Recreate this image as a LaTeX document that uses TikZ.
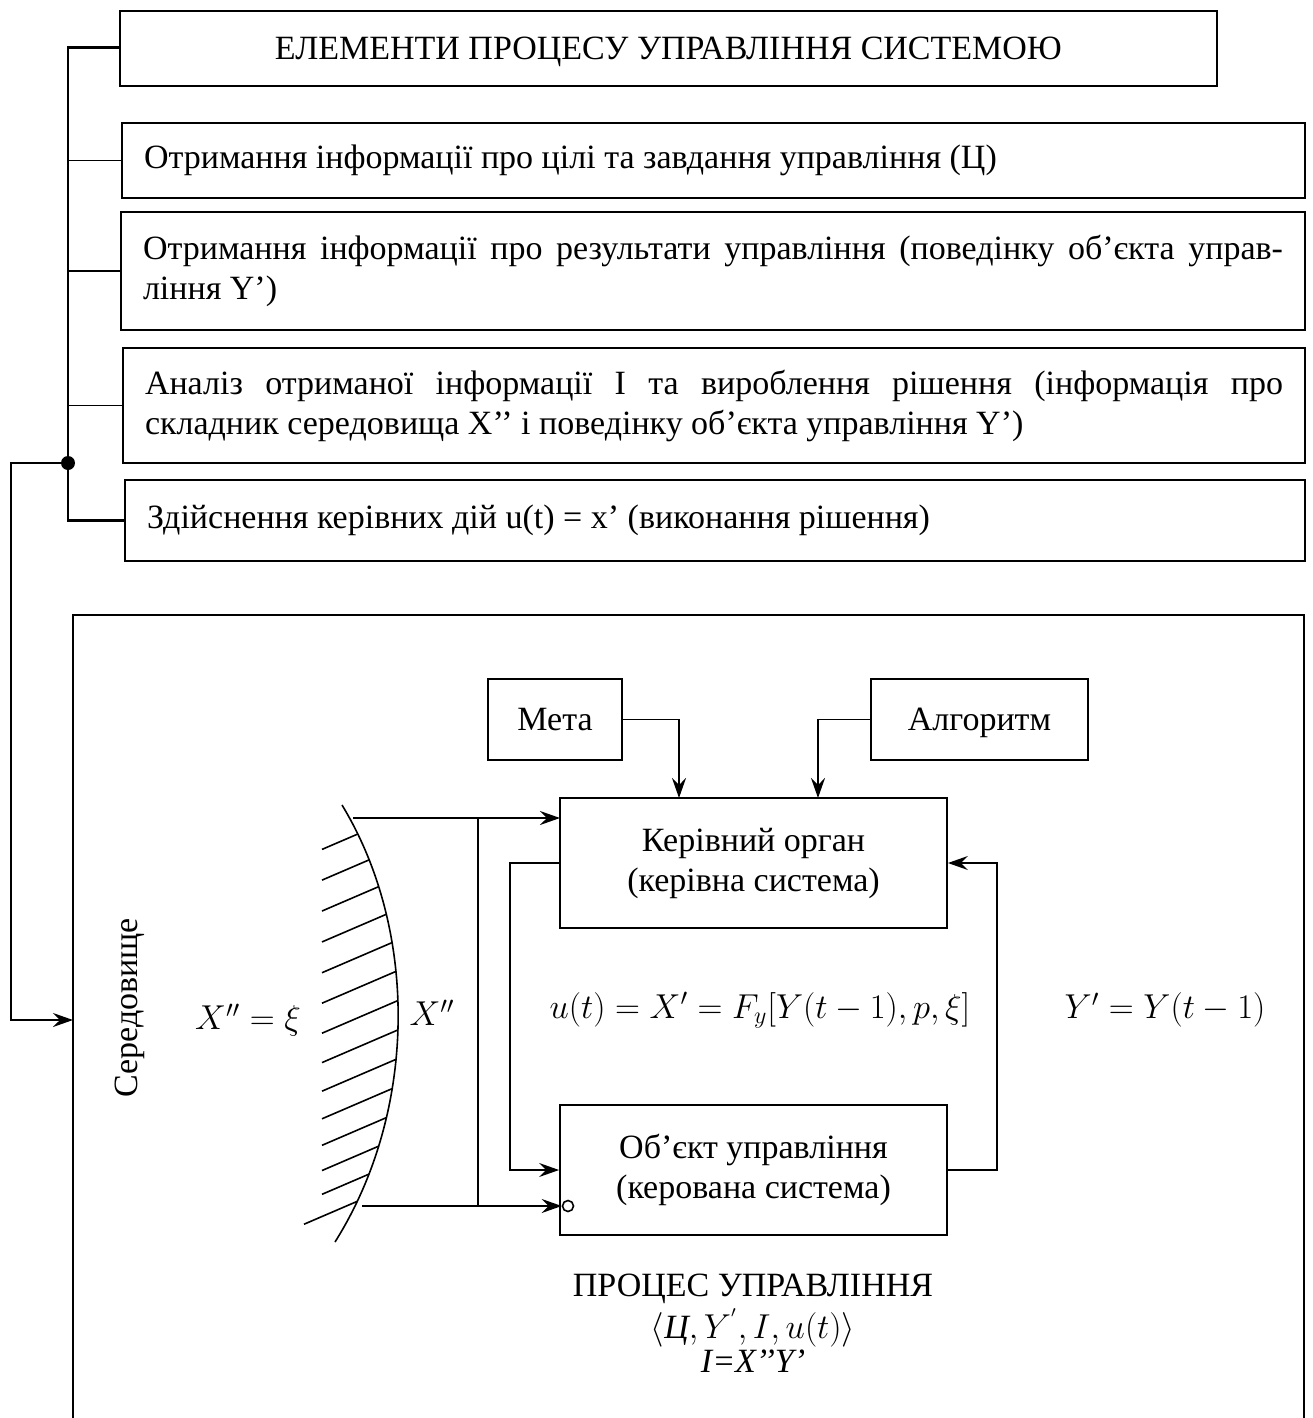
\documentclass[tikz,border=0pt]{standalone}
\usepackage{fontspec}
\setmainfont{Liberation Serif}
\usetikzlibrary{arrows.meta,calc}

\tikzset{
  box/.style={draw, line width=0.9pt, inner sep=0pt, align=center},
  onebox/.style={box, text height=11.2pt, text depth=0pt},
  listbox/.style={draw, line width=0.9pt, inner xsep=11pt, inner ysep=0pt, align=justify},
  link/.style={line width=0.8pt},
  arr/.style={line width=0.8pt, -{Stealth[length=10pt,width=7pt,inset=3.5pt]}},
  hatch/.style={line width=0.8pt},
  tight/.style={inner sep=0pt},
}

\begin{document}
\begin{tikzpicture}[x=0.5pt, y=-0.5pt,
  every node/.style={font=\fontsize{17}{20}\selectfont}]
\useasboundingbox (0,0) rectangle (1312,1418);

% ---- elements of the control process ----
\node[onebox, minimum width=548.5pt, minimum height=37.5pt] (head) at (668.5,48.5)
  {ЕЛЕМЕНТИ ПРОЦЕСУ УПРАВЛІННЯ СИСТЕМОЮ};
\node[listbox, text width=569.5pt, minimum height=37.5pt] (e1) at (713.5,160.5)
  {Отримання інформації про цілі та завдання управління (Ц)};
\node[listbox, text width=570pt, minimum height=59pt] (e2) at (713,271)
  {Отримання інформації про результати управління (поведінку об’єкта управ-\linebreak ління Y’)};
\node[listbox, text width=569pt, minimum height=57.5pt] (e3) at (714,405.5)
  {Аналіз отриманої інформації I та вироблення рішення (інформація про\linebreak складник середовища X’’ і поведінку об’єкта управління Y’)};
\node[listbox, text width=568pt, minimum height=40.5pt] (e4) at (715,520.5)
  {Здійснення керівних дій u(t) = x’ (виконання рішення)};

% bracket joining the elements
\coordinate (btop) at (68,47.5);
\coordinate (bbot) at (68,520.5);
\coordinate (bdot) at (68,463);
\draw[line width=1.2pt] (head.west |- btop) -- (btop) -- (bbot) -- (e4.west);
\draw[link] (e1.west) -- (e1.west -| btop);
\draw[link] (e2.west) -- (e2.west -| btop);
\draw[link] (e3.west) -- (e3.west -| btop);
\fill (bdot) circle (3.5pt);

% ---- environment frame (open at the bottom) ----
\draw[line width=0.9pt] (73,1430) -- (73,615) -- (1304,615) -- (1304,1430);
\coordinate (envin) at (73,1020);
\draw[arr] (bdot) -- (11,463) -- (11,1020) -- (envin);
\node[rotate=90] (env) at (130,1008) {Середовище};

% ---- control loop ----
\node[onebox, minimum width=67pt, minimum height=40.5pt] (goal) at (555,719.5) {Мета};
\node[onebox, minimum width=108.5pt, minimum height=40.5pt] (alg) at (979.5,719.5) {Алгоритм};
\node[box, minimum width=193.5pt, minimum height=65pt] (ctrl) at (753.5,863)
  {Керівний орган\\(керівна система)};
\node[box, minimum width=193.5pt, minimum height=65pt] (obj) at (753.5,1170)
  {Об’єкт управління\\(керована система)};

\coordinate (gin) at (679,798);
\coordinate (ain) at (818,798);
\draw[arr] (goal.east) -| (gin);
\draw[arr] (alg.west) -| (ain);

\draw[arr] (obj.east) -- (997,1170) |- (ctrl.east);
\draw[arr] (ctrl.west) -- (510,863) |- (obj.west);

% hatched boundary of the environment
\path (342,805) .. controls (418,930) and (418,1110) .. (335,1242)
  \foreach \k in {0,...,13} { coordinate[pos={0.075+\k*0.0635}] (h\k) };
\draw[line width=0.8pt] (342,805) .. controls (418,930) and (418,1110) .. (335,1242);
\foreach \k in {0,...,12} {
  \draw[hatch] let \p1=(h\k) in (\p1) -- (161pt, {\y1-0.43*(\x1-161pt)});
}
\draw[hatch] let \p1=(h13) in (\p1) -- (152pt, {\y1-0.43*(\x1-152pt)});

% disturbance inputs
\coordinate (xs) at (353,818);
\coordinate (xb) at (362,1206);
\coordinate (xt) at (478,818);
\coordinate (xj) at (478,1206);
\coordinate (cin) at (560,818);
\node[circle, draw, line width=0.8pt, fill=white, inner sep=0pt, minimum size=5.5pt] (inv) at (568,1206) {};
\draw[arr] (xs) -- (cin);
\draw[arr] (xb) -- (inv.west);
\draw[link] (xt) -- (xj);

% labels
\node (xeq) at (248,1020) {$X''=\xi$};
\node (xpp) at (432,1013) {$X''$};
\node (law) at (760,1010) {$u(t)=X'=F_y[Y(t-1),p,\xi]$};
\node (yeq) at (1165,1010) {$Y'=Y(t-1)$};
\node[tight] (proc) at (753,1289) {ПРОЦЕС УПРАВЛІННЯ};
\node[tight] (tuple) at (753,1328) {$\langle\mbox{\itshape Ц}, Y^{'}, I, u(t)\rangle$};
\node[tight] (info) at (753,1361) {\itshape I=X’’Y’};
\end{tikzpicture}
\end{document}
